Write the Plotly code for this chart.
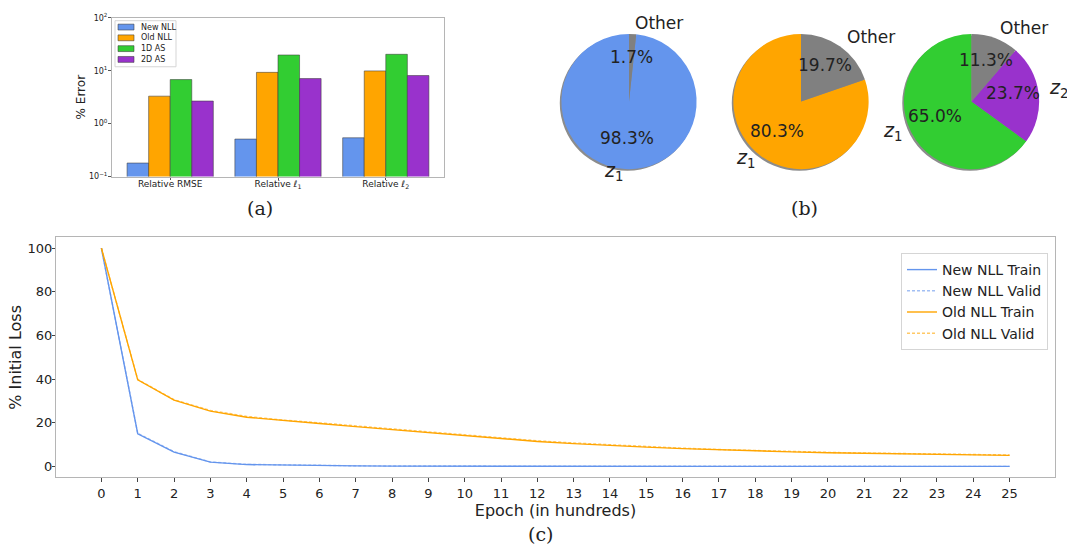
import math
import plotly.graph_objects as go

W, H = 1067, 554

# ---------------- data ----------------
bar_categories = ["Relative RMSE", "Relative <i>ℓ</i><sub>1</sub>", "Relative <i>ℓ</i><sub>2</sub>"]
bar_series = ["New NLL", "Old NLL", "1D AS", "2D AS"]
bar_new_nll = [0.18, 0.51, 0.54]
bar_old_nll = [3.3, 9.3, 9.9]
bar_1d_as = [6.8, 19.8, 20.4]
bar_2d_as = [2.67, 7.1, 8.1]
bar_y_tickvals = [0.1, 1, 10, 100]
bar_y_ticktext = ["10<sup>−1</sup>", "10<sup>0</sup>", "10<sup>1</sup>", "10<sup>2</sup>"]

pie1_labels = ["<i>z</i><sub>1</sub>", "Other"]
pie1_values = [98.3, 1.7]
pie2_labels = ["<i>z</i><sub>1</sub>", "Other"]
pie2_values = [80.3, 19.7]
pie3_labels = ["<i>z</i><sub>1</sub>", "<i>z</i><sub>2</sub>", "Other"]
pie3_values = [65.0, 23.7, 11.3]

epochs = list(range(26))
new_train = [100, 15.0, 6.6, 2.0, 0.9, 0.6, 0.4, 0.3, 0.2, 0.15, 0.12, 0.1, 0.1, 0.09, 0.08,
             0.08, 0.07, 0.07, 0.06, 0.06, 0.06, 0.05, 0.05, 0.05, 0.05, 0.05]
new_valid = [100, 15.2, 6.8, 2.1, 1.0, 0.7, 0.5, 0.35, 0.25, 0.2, 0.17, 0.15, 0.14, 0.13, 0.12,
             0.12, 0.11, 0.11, 0.1, 0.1, 0.1, 0.1, 0.09, 0.09, 0.09, 0.09]
old_train = [100, 39.7, 30.4, 25.4, 22.6, 21.0, 19.7, 18.3, 16.9, 15.5, 14.0, 12.7, 11.5, 10.5,
             9.6, 8.9, 8.2, 7.6, 7.1, 6.7, 6.3, 6.0, 5.7, 5.5, 5.3, 5.1]
old_valid = [100, 39.9, 30.6, 25.7, 23.0, 21.3, 20.0, 18.6, 17.2, 15.8, 14.3, 13.0, 11.8, 10.8,
             9.9, 9.1, 8.4, 7.8, 7.3, 6.9, 6.5, 6.2, 5.9, 5.7, 5.5, 5.3]
line_y_ticks = [0, 20, 40, 60, 80, 100]

# ---------------- styles ----------------
BLUE = "#6495ED"
ORANGE = "#FFA500"
GREEN = "#32CD32"
PURPLE = "#9932CC"
GREY = "#808080"
TXT = "#222222"
FRAME = "#b5b5b5"
SANS = "DejaVu Sans"
SERIF = "DejaVu Serif"
BAR_COLORS = [BLUE, ORANGE, GREEN, PURPLE]


def fx(x):
    return x / W


def fy(y):
    return 1 - y / H


fig = go.Figure()
shapes = []
annotations = []

# ---------------- (a) bars ----------------
bar_edge = dict(color="rgba(60,60,60,0.55)", width=1)
for name, vals, col in zip(bar_series, [bar_new_nll, bar_old_nll, bar_1d_as, bar_2d_as], BAR_COLORS):
    fig.add_trace(go.Bar(x=[0, 1, 2], y=vals, name=name, marker=dict(color=col, line=bar_edge),
                         xaxis="x", yaxis="y", showlegend=False))

# compact legend for the bar panel (matplotlib-like)
shapes.append(dict(type="rect", xref="paper", yref="paper", x0=fx(115), x1=fx(176),
                   y0=fy(62), y1=fy(15), fillcolor="rgba(255,255,255,0.85)",
                   line=dict(color="#d5d5d5", width=1), layer="above"))
for i, (name, col) in enumerate(zip(bar_series, BAR_COLORS)):
    yc = 21.5 + 11 * i
    shapes.append(dict(type="rect", xref="paper", yref="paper", x0=fx(118), x1=fx(134),
                       y0=fy(yc + 3), y1=fy(yc - 3), fillcolor=col,
                       line=dict(color="rgba(60,60,60,0.55)", width=1), layer="above"))
    annotations.append(dict(x=fx(139), y=fy(yc), xref="paper", yref="paper", text=name,
                            showarrow=False, xanchor="left", yanchor="middle",
                            font=dict(family=SANS, size=8, color=TXT)))

# ---------------- (c) lines ----------------
fig.add_trace(go.Scatter(x=epochs, y=new_train, mode="lines", name="New NLL Train",
                         line=dict(color=BLUE, width=1.4), xaxis="x2", yaxis="y2"))
fig.add_trace(go.Scatter(x=epochs, y=new_valid, mode="lines", name="New NLL Valid",
                         line=dict(color="rgba(100,149,237,0.6)", width=1.4, dash="3px,2px"),
                         xaxis="x2", yaxis="y2"))
fig.add_trace(go.Scatter(x=epochs, y=old_train, mode="lines", name="Old NLL Train",
                         line=dict(color=ORANGE, width=1.4), xaxis="x2", yaxis="y2"))
fig.add_trace(go.Scatter(x=epochs, y=old_valid, mode="lines", name="Old NLL Valid",
                         line=dict(color="rgba(255,165,0,0.6)", width=1.4, dash="3px,2px"),
                         xaxis="x2", yaxis="y2"))

# ---------------- (b) pies ----------------
pies = [
    ("p1", pie1_labels, pie1_values, [BLUE, GREY], 629.0),
    ("p2", pie2_labels, pie2_values, [ORANGE, GREY], 801.0),
    ("p3", pie3_labels, pie3_values, [GREEN, PURPLE, GREY], 971.5),
]
PCY = 97.5
R = 69.0
for key, labels, values, colors, cx in pies:
    total = sum(values)
    # shadow (offset down-left)
    sh = 1.6
    fig.add_trace(go.Pie(values=[total], labels=[key + " shadow"], marker=dict(colors=["#8c8c8c"]),
                         textinfo="none", hoverinfo="skip", showlegend=False, sort=False,
                         domain=dict(x=[fx(cx - R - sh), fx(cx + R - sh)],
                                     y=[fy(PCY + R + sh), fy(PCY - R + sh)])))
    # plotly ccw: first slice occupies [rotation, rotation+v1] clockwise; shift so it starts at 12 o'clock going ccw
    rot = -360.0 * values[0] / total
    fig.add_trace(go.Pie(values=values, labels=[f"{key} {i}" for i in range(len(values))],
                         marker=dict(colors=colors), textinfo="none", hoverinfo="skip",
                         showlegend=False, sort=False, direction="counterclockwise", rotation=rot,
                         domain=dict(x=[fx(cx - R), fx(cx + R)], y=[fy(PCY + R), fy(PCY - R)])))
    cum = 0.0
    for lab, v in zip(labels, values):
        theta = math.radians(90 + 360 * (cum + v / 2) / total)
        cum += v
        c, s = math.cos(theta), math.sin(theta)
        lx, ly = cx + 1.1 * R * c, PCY - 1.1 * R * s
        is_z = lab != "Other"
        annotations.append(dict(x=fx(lx), y=fy(ly), xref="paper", yref="paper", text=lab,
                                showarrow=False, xanchor="left" if c > 0 else "right",
                                yanchor="middle", yshift=4,
                                font=dict(family=SANS, size=19 if is_z else 17, color=TXT)))
        px_, py_ = cx + 0.6 * R * c, PCY - 0.6 * R * s
        annotations.append(dict(x=fx(px_), y=fy(py_), xref="paper", yref="paper",
                                text=f"{100 * v / total:.1f}%", showarrow=False,
                                xanchor="center", yanchor="middle", yshift=4,
                                font=dict(family=SANS, size=17, color=TXT)))

# panel labels
for txt, x, y in [("(a)", 260, 206), ("(b)", 804, 206), ("(c)", 540, 539)]:
    annotations.append(dict(x=fx(x), y=fy(y), xref="paper", yref="paper", text=txt,
                            showarrow=False, xanchor="center", yanchor="middle",
                            font=dict(family=SERIF, size=19, color=TXT)))

fig.update_layout(
    width=W, height=H,
    margin=dict(l=0, r=0, t=0, b=0),
    paper_bgcolor="white", plot_bgcolor="white",
    barmode="group", bargap=0.2, bargroupgap=0,
    font=dict(family=SANS, color=TXT),
    xaxis=dict(domain=[fx(112), fx(444)], range=[-0.54, 2.54], tickvals=[0, 1, 2],
               ticktext=bar_categories, tickfont=dict(size=9, color=TXT), showline=True,
               mirror=True, linecolor=FRAME, linewidth=1, ticks="outside", ticklen=2,
               ticklabelstandoff=-3,
               tickcolor="#555", showgrid=False, zeroline=False, fixedrange=True),
    yaxis=dict(domain=[fy(174), fy(12)], type="log", range=[-1, 2], tickvals=bar_y_tickvals,
               ticktext=bar_y_ticktext, tickfont=dict(size=8, color=TXT), showline=True,
               mirror=True, linecolor=FRAME, linewidth=1, ticks="outside", ticklen=3,
               tickcolor="#555", showgrid=False, zeroline=False, automargin=True,
               ticklabelstandoff=-1,
               title=dict(text="% Error", font=dict(size=12, color=TXT), standoff=0)),
    xaxis2=dict(domain=[fx(56), fx(1055)], range=[-1.25, 26.25], tickvals=epochs,
                tickfont=dict(size=13, color=TXT), showline=True, mirror=True, linecolor=FRAME,
                linewidth=1, ticks="outside", ticklen=4, tickcolor="#444", showgrid=False,
                zeroline=False, anchor="y2", automargin=True,
                title=dict(text="Epoch (in hundreds)", font=dict(size=16, color=TXT), standoff=3)),
    yaxis2=dict(domain=[fy(481), fy(236)], range=[-5, 105], tickvals=line_y_ticks,
                tickfont=dict(size=13, color=TXT), showline=True, mirror=True, linecolor=FRAME,
                linewidth=1, ticks="outside", ticklen=3, tickcolor="#444", showgrid=False,
                zeroline=False, anchor="x2", automargin=True, ticklabelstandoff=-3,
                title=dict(text="% Initial Loss", font=dict(size=16, color=TXT), standoff=1)),
    showlegend=True,
    legend=dict(x=fx(1048), y=fy(252), xanchor="right", yanchor="top",
                font=dict(family=SANS, size=14, color=TXT), bgcolor="rgba(255,255,255,0.9)",
                bordercolor="#d5d5d5", borderwidth=1, itemwidth=30),
    shapes=shapes,
    annotations=annotations,
)

fig.write_html("out.html", config={"displayModeBar": False},
               post_script="document.body.style.margin='0px';")
